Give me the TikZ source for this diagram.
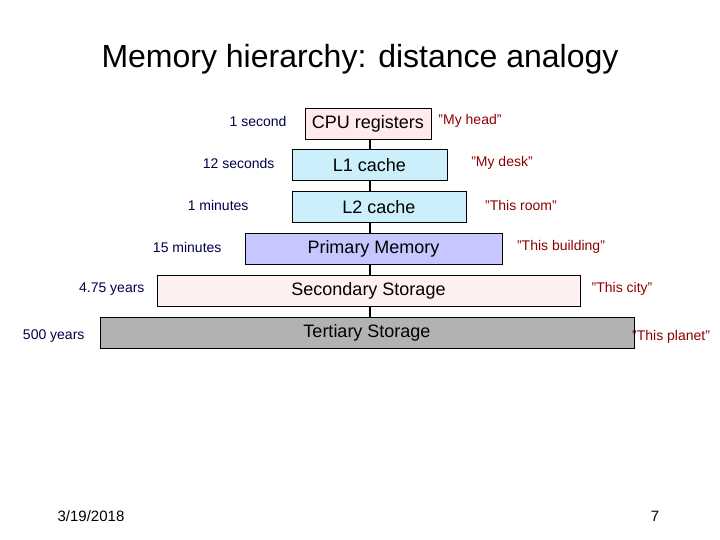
\documentclass[tikz,border=0pt]{standalone}
\usepackage{fontspec}
\setmainfont{Liberation Sans}
\begin{document}
\begin{tikzpicture}[x=1pt,y=-1pt,
 box/.style={draw=black,line width=0.8pt,minimum height=31pt,inner sep=0pt,font=\fontsize{18}{20}\selectfont},
 ll/.style={text=blue!30!black,font=\fontsize{14}{16}\selectfont,anchor=east},
 rl/.style={text=red!55!black,font=\fontsize{14}{16}\selectfont}]
\useasboundingbox (0,0) rectangle (720,540);
\node[font=\fontsize{32}{36}\selectfont] (t) at (360,59) {Memory hierarchy: distance analogy};
\coordinate (top) at (370,123);
\coordinate (bot) at (370,333);
\draw[line width=1.5pt] (top) -- (bot);
\node[box,fill=red!8,minimum width=126pt] (cpu) at (368,123.5) {CPU registers};
\node[box,fill=cyan!20,minimum width=155pt] (l1) at (369.5,165) {L1 cache};
\node[box,fill=cyan!20,minimum width=174pt] (l2) at (379,207) {L2 cache};
\node[box,fill=blue!22,minimum width=257pt] (pm) at (373.5,249) {Primary Memory};
\node[box,fill=red!6,minimum width=423pt] (ss) at (368.5,291) {Secondary Storage};
\node[box,fill=black!30,minimum width=534pt] (ts) at (367,333) {Tertiary Storage};
\node[ll] (a1) at (290,121) {1 second};
\node[ll] (a2) at (278,163) {12 seconds};
\node[ll] (a3) at (252,205) {1 minutes};
\node[ll] (a4) at (225,247) {15 minutes};
\node[ll] (a5) at (148,289) {4.75 years};
\node[ll] (a6) at (88,336) {500 years};
\node[rl] (b1) at (470,121) {"My head"};
\node[rl] (b2) at (502,163) {"My desk"};
\node[rl] (b3) at (521,205) {"This room"};
\node[rl] (b4) at (561,247) {"This building"};
\node[rl] (b5) at (622,289) {"This city"};
\node[rl,anchor=west,inner sep=0pt] (b6) at (632,337) {"This planet"};
\node[font=\fontsize{15}{17}\selectfont] (d) at (91,516) {3/19/2018};
\node[font=\fontsize{15}{17}\selectfont] (p) at (655,516) {7};
\end{tikzpicture}
\end{document}
